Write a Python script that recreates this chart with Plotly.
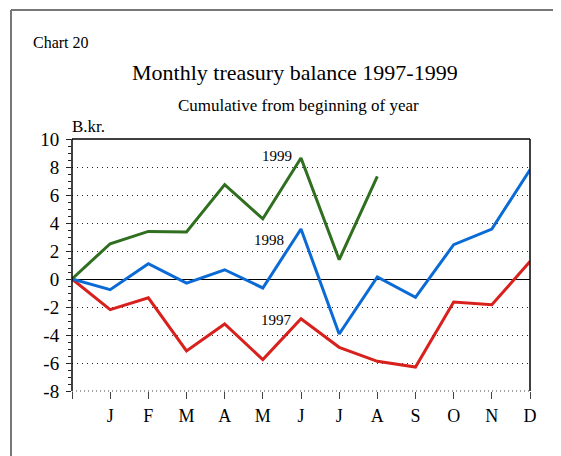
import plotly.graph_objects as go

months = ["", "J", "F", "M", "A", "M", "J", "J", "A", "S", "O", "N", "D"]
x_pos = list(range(13))
y1997 = [0, -2.19, -1.34, -5.14, -3.21, -5.76, -2.84, -4.88, -5.88, -6.29, -1.64, -1.84, 1.25]
y1998 = [0, -0.76, 1.09, -0.29, 0.66, -0.64, 3.57, -3.93, 0.14, -1.31, 2.45, 3.57, 7.8]
y1999 = [0, 2.52, 3.4, 3.36, 6.74, 4.3, 8.64, 1.38, 7.33, None, None, None, None]
y_ticks = [-8, -6, -4, -2, 0, 2, 4, 6, 8, 10]
y_ticktext = ["-8", "-6", "-4", "-2", "0", "2", "4", "6", "8", "10"]

FONT = "Liberation Serif"

fig = go.Figure()
fig.add_trace(go.Scatter(x=x_pos, y=y1997, mode="lines", line=dict(color="#d8201c", width=3), name="1997"))
fig.add_trace(go.Scatter(x=x_pos, y=y1998, mode="lines", line=dict(color="#0a6ad6", width=3), name="1998"))
fig.add_trace(go.Scatter(x=x_pos, y=y1999, mode="lines", line=dict(color="#2f6f1f", width=3), name="1999"))

fig.update_layout(
    width=553, height=448,
    margin=dict(l=64, r=31, t=131, b=65),
    paper_bgcolor="white", plot_bgcolor="white",
    showlegend=False,
    font=dict(family=FONT, color="black", size=18),
    xaxis=dict(
        range=[0, 12], tickvals=x_pos, ticktext=months,
        showgrid=False, zeroline=False, showline=False,
        ticks="outside", ticklen=7, tickcolor="#444", tickwidth=1,
        ticklabelstandoff=1,
        tickfont=dict(family=FONT, size=18),
    ),
    yaxis=dict(
        range=[-8, 10], tickvals=y_ticks, ticktext=y_ticktext,
        showgrid=True, gridcolor="#222", griddash="1px,4px", gridwidth=1,
        zeroline=True, zerolinecolor="black", zerolinewidth=1,
        showline=False,
        ticks="outside", ticklen=5, tickcolor="#222", tickwidth=1,
        ticklabelstandoff=3,
        minor=dict(dtick=0.5, ticks="outside", ticklen=3, tickcolor="#222", showgrid=False),
        tickfont=dict(family=FONT, size=19),
    ),
)

def py(pix):
    return (391 - pix) / 252

def px(pix):
    return (pix - 72) / 458

# plot frame: left, top, right solid; bottom dotted gridline
fig.add_shape(type="line", xref="paper", yref="paper", x0=0, x1=0, y0=0, y1=1, line=dict(color="black", width=1.5))
fig.add_shape(type="line", xref="paper", yref="paper", x0=0, x1=1, y0=1, y1=1, line=dict(color="black", width=1.5))
fig.add_shape(type="line", xref="paper", yref="paper", x0=1, x1=1, y0=0, y1=1, line=dict(color="black", width=1.5))
fig.add_shape(type="line", xref="paper", yref="paper", x0=0, x1=1, y0=0, y1=0, line=dict(color="#444", width=1, dash="1px,3px"))

# outer frame (gray, partial)
fig.add_shape(type="line", xref="paper", yref="paper", x0=px(11), x1=px(561), y0=py(10), y1=py(10),
              line=dict(color="#777", width=2))
fig.add_shape(type="line", xref="paper", yref="paper", x0=px(11), x1=px(11), y0=py(470), y1=py(10),
              line=dict(color="#777", width=2))

fig.add_annotation(text="Chart 20", xref="paper", yref="paper", x=px(31), y=py(42), xanchor="left", yanchor="middle",
                   showarrow=False, font=dict(family=FONT, size=16))
fig.add_annotation(text="Monthly treasury balance 1997-1999", xref="paper", yref="paper", x=px(295), y=py(72),
                   xanchor="center", yanchor="middle", showarrow=False, font=dict(family=FONT, size=22))
fig.add_annotation(text="Cumulative from beginning of year", xref="paper", yref="paper", x=px(298), y=py(105),
                   xanchor="center", yanchor="middle", showarrow=False, font=dict(family=FONT, size=17))
fig.add_annotation(text="B.kr.", xref="paper", yref="paper", x=px(70), y=py(127), xanchor="left", yanchor="middle",
                   showarrow=False, font=dict(family=FONT, size=17))

fig.add_annotation(text="1999", x=5.37, y=8.8, showarrow=False, font=dict(family=FONT, size=15))
fig.add_annotation(text="1998", x=5.15, y=2.8, showarrow=False, font=dict(family=FONT, size=15))
fig.add_annotation(text="1997", x=5.36, y=-2.9, showarrow=False, font=dict(family=FONT, size=15))

fig.write_html("out.html")
